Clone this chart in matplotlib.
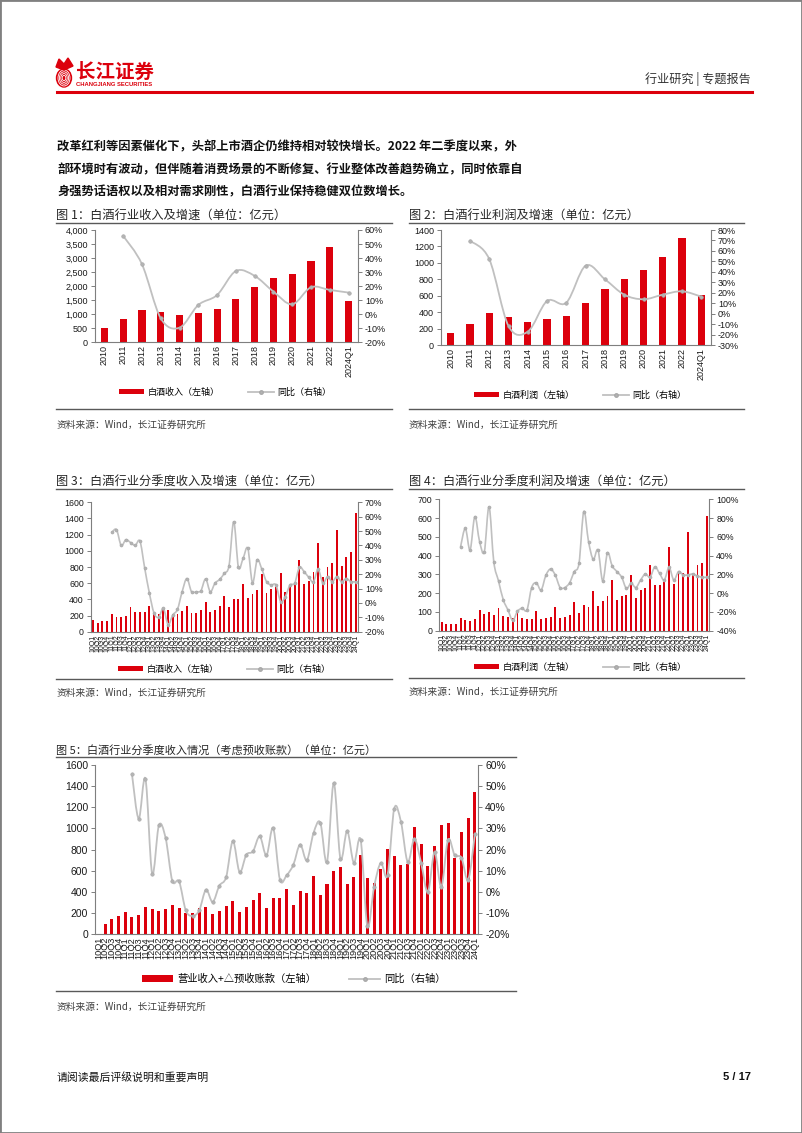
import matplotlib
matplotlib.use("Agg")
import matplotlib.pyplot as plt
from matplotlib.path import Path
from matplotlib.patches import PathPatch, Patch, Rectangle, Ellipse, Polygon
from matplotlib.lines import Line2D
from matplotlib.ticker import FuncFormatter, MultipleLocator
import numpy as np

plt.rcParams['font.family'] = ['Liberation Sans', 'Noto Sans CJK SC', 'DejaVu Sans']
CJK = ['Noto Sans CJK SC', 'DejaVu Sans']

W, H = 802, 1133
RED = '#DC000C'
GRAY = '#C0C0C0'
AXC = '#7F7F7F'

# ---------------- data ----------------
years = ['2010', '2011', '2012', '2013', '2014', '2015', '2016', '2017', '2018',
         '2019', '2020', '2021', '2022', '2024Q1']
rev_annual = [522, 831, 1151, 1080, 973, 1033, 1175, 1543, 1959, 2291, 2433, 2896, 3406, 1460]
rev_annual_yoy = [None, 55.8, 35.6, -2.9, -9.6, 6.6, 13.7, 30.8, 27.3, 16.1, 7.1, 19.2, 17.3, 15.4]
profit_annual = [154, 255, 388, 348, 287, 320, 356, 514, 680, 809, 910, 1076, 1307, 611]
profit_annual_yoy = [None, 69.8, 52.3, -11.6, -17.0, 12.3, 10.7, 46.0, 33.0, 18.3, 13.9, 18.3, 21.5, 16.4]

quarters = [f'{y:02d}Q{q}' for y in range(10, 24) for q in range(1, 5)] + ['24Q1']

rev_q = [144, 111, 132, 136, 214, 177, 177, 198, 301, 239, 247, 247, 317, 227, 214, 268,
         268, 214, 214, 251, 321, 227, 227, 268, 367, 239, 268, 317, 441, 301, 408, 404,
         585, 420, 461, 515, 713, 478, 523, 548, 721, 494, 548, 597, 886, 589, 630, 742,
         1092, 672, 803, 845, 1257, 812, 927, 989, 1463]
rev_q_yoy = [None, None, None, None, 49, 51, 40, 44, 42, 40, 43, 24.5, 7, -7, -10, -3.7,
             -15, -8.4, -4.5, 7.8, 17, 7.8, 7.8, 8.5, 16.7, 7.8, 13.7, 16.4, 20.6, 26, 56.5, 24.8,
             31, 38, 14, 30, 23.4, 14.8, 12.5, 12.5, 1, 4.4, 12.5, 13.7, 24.8, 21.8, 17.8, 14.8,
             23.4, 13.7, 18.3, 14.8, 18.3, 14.8, 17, 14.8, 14.8]

profit_q = [48, 34, 34, 34, 69, 57, 52, 60, 110, 87, 98, 84, 121, 78, 75, 66,
            92, 66, 62, 60, 107, 62, 69, 75, 124, 69, 75, 82, 155, 92, 139, 128,
            212, 134, 158, 183, 272, 162, 185, 190, 297, 174, 216, 229, 348, 245, 245, 261,
            446, 249, 305, 308, 528, 295, 350, 358, 610]
profit_q_yoy = [None, None, None, None, 49.7, 69, 46, 81.5, 55, 44, 92, 33.5, 13, -7, -18, -29,
                -19.4, -16, -18, 6, 11, 3.3, 19, 25.7, 19, 6, 6, 11, 23, 32, 87, 55,
                36, 46, 13, 43, 29, 23, 17, 5, 10.5, 6, 14, 20.4, 17, 28, 21, 14,
                27.5, 14, 23, 19.4, 19.4, 20.4, 18.3, 17, 17]

rev_adj_q = [None, 100, 140, 170, 210, 165, 185, 255, 240, 220, 240, 275, 245, 200, 205, 250,
             255, 190, 220, 265, 310, 210, 255, 320, 390, 245, 340, 345, 425, 275, 410, 395,
             550, 370, 475, 600, 635, 480, 545, 750, 530, 485, 620, 810, 740, 655, 660, 1010,
             850, 650, 835, 1035, 1055, 720, 965, 1100, 1345]
rev_adj_q_yoy = [None, None, None, None, None, 55.6, 34.6, 53.5, 8.7, 31.5, 25.5, 5.2, 5.0, -8.7, -11.3, -8.7,
                 1.0, -4.7, 3.0, 7.0, 24.0, 9.4, 17.6, 19.2, 26.3, 17.3, 30.2, 5.8, 7.9, 12.9, 22.4, 15.0,
                 27.9, 32.8, 14.2, 51.5, 15.7, 28.8, 13.7, 24.7, -16.2, 2.4, 13.7, 7.9, 39.4, 33.1, 14.2, 25.2,
                 13.7, 0.0, 18.9, 2.4, 24.7, 17.3, 16.2, 5.8, 27.6]

# ---------------- helpers ----------------
fig = plt.figure(figsize=(W / 100, H / 100), dpi=100)
fig.patch.set_facecolor('white')


def fx(x):
    return x / W


def fy(y):
    return 1 - y / H


def add_ax(l, t, r, b):
    return fig.add_axes([fx(l), fy(b), (r - l) / W, (b - t) / H])


def hline(x0, x1, y, color='#595959', lw=1.0):
    fig.add_artist(Line2D([fx(x0), fx(x1)], [fy(y), fy(y)], color=color, lw=lw,
                          transform=fig.transFigure))


def smooth_line(ax, xs, ys, color, lw, t=1 / 6):
    pts = np.column_stack([xs, ys]).astype(float)
    n = len(pts)
    verts = [pts[0]]
    codes = [Path.MOVETO]
    for i in range(n - 1):
        p0 = pts[i - 1] if i > 0 else pts[i]
        p1 = pts[i]
        p2 = pts[i + 1]
        p3 = pts[i + 2] if i + 2 < n else pts[i + 1]
        verts += [p1 + (p2 - p0) * t, p2 - (p3 - p1) * t, p2]
        codes += [Path.CURVE4] * 3
    ax.add_patch(PathPatch(Path(verts, codes), fill=False, edgecolor=color, lw=lw,
                           capstyle='round', joinstyle='round'))


def combo(ax, cats, bars, yoy, ylim, ystep, rlim, rstep, bar_w, fs, xfs,
          comma=False, ms=2.6, lw=1.3):
    x = np.arange(len(cats))
    bv = np.array([np.nan if v is None else v for v in bars], dtype=float)
    ax.bar(x, bv, width=bar_w, color=RED, zorder=2)
    ax.set_xlim(-0.5, len(cats) - 0.5)
    ax.set_ylim(*ylim)
    ax.yaxis.set_major_locator(MultipleLocator(ystep))
    if comma:
        ax.yaxis.set_major_formatter(FuncFormatter(lambda v, p: f'{v:,.0f}'))
    else:
        ax.yaxis.set_major_formatter(FuncFormatter(lambda v, p: f'{v:.0f}'))
    ax.set_xticks(x)
    ax.set_xticklabels(cats, rotation=90, fontsize=xfs, color='#1a1a1a')
    ax.tick_params(axis='x', length=0, pad=2)
    ax.tick_params(axis='y', labelsize=fs, length=3, width=0.7, color=AXC,
                   pad=2, labelcolor='#1a1a1a')
    for s in ['top', 'right']:
        ax.spines[s].set_visible(False)
    for s in ['left', 'bottom']:
        ax.spines[s].set_color(AXC)
        ax.spines[s].set_linewidth(0.8)
    ax.patch.set_alpha(0)

    ax2 = ax.twinx()
    ax2.set_ylim(*rlim)
    ax2.yaxis.set_major_locator(MultipleLocator(rstep))
    ax2.yaxis.set_major_formatter(FuncFormatter(lambda v, p: f'{v:.0f}%'))
    ax2.tick_params(axis='y', labelsize=fs, length=3, width=0.7, color=AXC,
                    pad=2, labelcolor='#1a1a1a')
    for s in ['top', 'left', 'bottom']:
        ax2.spines[s].set_visible(False)
    ax2.spines['right'].set_color(AXC)
    ax2.spines['right'].set_linewidth(0.8)
    idx = [i for i, v in enumerate(yoy) if v is not None]
    vals = [yoy[i] for i in idx]
    smooth_line(ax2, idx, vals, GRAY, lw)
    ax2.plot(idx, vals, 'o', ms=ms, color='#B4B4B4', mec='#A8A8A8', mew=0.4,
             linestyle='none', zorder=3)
    return ax2


def legend(cx, cy, left_label, fs, hl=2.8):
    handles = [Patch(facecolor=RED, edgecolor='none'),
               Line2D([0], [0], color=GRAY, lw=1.3, marker='o', ms=2.5,
                      mfc='#B4B4B4', mec='#A8A8A8')]
    fig.legend(handles, [left_label, '同比（右轴）'], loc='center',
               bbox_to_anchor=(fx(cx), fy(cy)), bbox_transform=fig.transFigure,
               ncol=2, frameon=False, fontsize=fs, handlelength=hl,
               handleheight=0.6, columnspacing=3.2, handletextpad=0.4,
               prop={'family': CJK, 'size': fs})


def chart_title(x, y, s, fs=8.8):
    fig.text(fx(x), fy(y), s, fontsize=fs, family=CJK, color='#262626',
             ha='left', va='center')


def source(x, y):
    fig.text(fx(x), fy(y), '资料来源：Wind，长江证券研究所', fontsize=7, family=CJK,
             color='#404040', ha='left', va='center')


# ---------------- page decoration ----------------
fig.add_artist(Rectangle((0, 0), 1, 1, transform=fig.transFigure, fill=False,
                         edgecolor='#808080', lw=2.0))

# logo
lax = add_ax(52, 55, 80, 89)
lax.set_xlim(0, 28)
lax.set_ylim(34, 0)
lax.axis('off')
lax.add_patch(Ellipse((12, 23), 15, 18, color=RED))
for k in range(4):
    lax.add_patch(Ellipse((12, 23), 12 - 2.8 * k, 16 - 3.6 * k, fill=False,
                          edgecolor='white', lw=0.6))
lax.add_patch(Polygon([[4, 12], [7, 4], [12, 9], [16, 3], [21, 11], [12, 15]],
                      closed=True, color=RED))
fig.text(fx(76), fy(72), '长江证券', fontsize=14, family=CJK, weight='bold',
         color=RED, ha='left', va='center')
fig.text(fx(76.5), fy(85), 'CHANGJIANG SECURITIES', fontsize=4.2, weight='bold',
         color=RED, ha='left', va='center')
fig.text(fx(751), fy(79), '行业研究 | 专题报告', fontsize=8.7, family=CJK,
         color='#333333', ha='right', va='center')
hline(57, 752, 92, color=RED, lw=2.2)

body = ['改革红利等因素催化下，头部上市酒企仍维持相对较快增长。2022 年二季度以来，外',
        '部环境时有波动，但伴随着消费场景的不断修复、行业整体改善趋势确立，同时依靠自',
        '身强势话语权以及相对需求刚性，白酒行业保持稳健双位数增长。']
for i, line in enumerate(body):
    fig.text(fx(57), fy(147 + 22.5 * i), line, fontsize=8.8, family=CJK,
             weight='bold', color='#111111', ha='left', va='center')

# ---------------- chart 1 ----------------
chart_title(56, 215, '图 1：白酒行业收入及增速（单位：亿元）')
hline(56, 392, 223, color='#595959', lw=1.0)
ax1 = add_ax(95, 230, 358, 342.3)
combo(ax1, years, rev_annual, rev_annual_yoy, (0, 4000), 500, (-20, 60), 10,
      0.38, 6.5, 6.5, comma=True)
legend(225, 392, '白酒收入（左轴）', 6.5)
hline(56, 392, 409, color='#595959', lw=1.0)
source(57, 425)

# ---------------- chart 2 ----------------
chart_title(409, 215, '图 2：白酒行业利润及增速（单位：亿元）')
hline(409, 744, 223, color='#595959', lw=1.0)
ax2 = add_ax(441, 230, 711, 345.3)
combo(ax2, years, profit_annual, profit_annual_yoy, (0, 1400), 200, (-30, 80), 10,
      0.38, 6.5, 6.5)
legend(580, 395, '白酒利润（左轴）', 6.5)
hline(409, 744, 409, color='#595959', lw=1.0)
source(409, 425)

# ---------------- chart 3 ----------------
chart_title(56, 482, '图 3：白酒行业分季度收入及增速（单位：亿元）')
hline(56, 392, 489, color='#595959', lw=1.0)
ax3 = add_ax(90.7, 502.3, 358, 631.7)
combo(ax3, quarters, rev_q, rev_q_yoy, (0, 1600), 200, (-20, 70), 10,
      0.4, 6.3, 5.0, ms=2.2, lw=1.2)
legend(224, 669, '白酒收入（左轴）', 6.5)
hline(56, 392, 679, color='#595959', lw=1.0)
source(57, 693)

# ---------------- chart 4 ----------------
chart_title(409, 482, '图 4：白酒行业分季度利润及增速（单位：亿元）')
hline(409, 744, 489, color='#595959', lw=1.0)
ax4 = add_ax(439.3, 499.3, 709.3, 630.7)
combo(ax4, quarters, profit_q, profit_q_yoy, (0, 700), 100, (-40, 100), 20,
      0.4, 6.3, 5.0, ms=2.2, lw=1.2)
legend(580, 667, '白酒利润（左轴）', 6.5)
hline(409, 744, 678, color='#595959', lw=1.0)
source(409, 692)

# ---------------- chart 5 ----------------
chart_title(56, 750, '图 5：白酒行业分季度收入情况（考虑预收账款）（单位：亿元）', fs=8.0)
hline(56, 516, 757, color='#595959', lw=1.0)
ax5 = add_ax(95, 765, 478.3, 934.3)
combo(ax5, quarters, rev_adj_q, rev_adj_q_yoy, (0, 1600), 200, (-20, 60), 10,
      0.45, 7.5, 6.6, ms=2.5, lw=1.3)
legend(294, 979, '营业收入+△预收账款（左轴）', 7.4, hl=3.0)
hline(56, 516, 991, color='#595959', lw=1.0)
source(57, 1007)

# ---------------- footer ----------------
fig.text(fx(57), fy(1077), '请阅读最后评级说明和重要声明', fontsize=7.8, family=CJK,
         color='#111111', ha='left', va='center')
fig.text(fx(751), fy(1077), '5 / 17', fontsize=8, weight='bold',
         color='#111111', ha='right', va='center')

fig.savefig('out.png', dpi=100, facecolor='white')
